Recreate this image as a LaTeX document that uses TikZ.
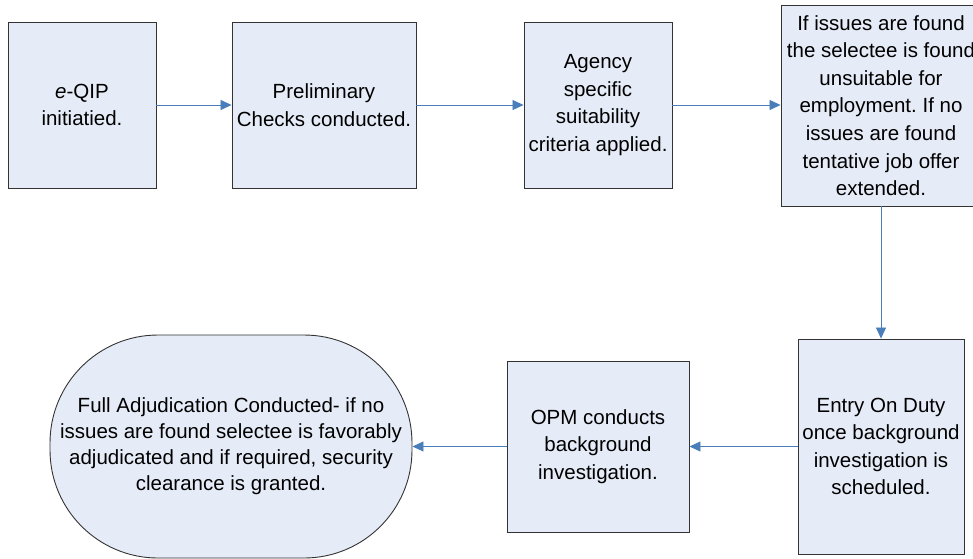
\documentclass[tikz,border=0pt]{standalone}
\usepackage{fontspec}
\setmainfont{Liberation Sans}
\frenchspacing
\usetikzlibrary{arrows.meta}
\definecolor{boxfill}{HTML}{E6ECF7}
\definecolor{boxline}{HTML}{333333}
\definecolor{flowblue}{HTML}{4A7EBB}
\tikzset{
  stepbox/.style={draw=boxline, fill=boxfill, line width=0.9pt, inner sep=0pt,
    align=center, font=\fontsize{20.5}{27.6}\selectfont},
  flow/.style={draw=flowblue, line width=0.8pt, -{Triangle[length=11pt,width=10pt]}}
}
\begin{document}
\begin{tikzpicture}[x=1pt, y=-1pt]
  \useasboundingbox (0,0) rectangle (973,558);

  % top row
  \node[stepbox, minimum width=148pt, minimum height=166pt] (eqip) at (82, 105) {\textit{e}-QIP\\initiatied.};
  \node[stepbox, minimum width=184pt, minimum height=166pt] (prelim) at (324, 105) {Preliminary\\Checks conducted.};
  \node[stepbox, minimum width=148pt, minimum height=166pt] (agency) at (598, 105) {Agency\\specific\\suitability\\criteria applied.};
  \node[stepbox, minimum width=200pt, minimum height=201pt] (offer) at (881, 105.5) {If issues are found\\the selectee is found\\unsuitable for\\employment. If no\\issues are found\\tentative job offer\\extended.};

  % bottom row
  \node[stepbox, minimum width=166pt, minimum height=215pt] (eod) at (881, 446.5) {Entry On Duty\\once background\\investigation is\\scheduled.};
  \node[stepbox, minimum width=182pt, minimum height=171pt] (opm) at (598, 446.5) {OPM conducts\\background\\investigation.};
  \node[stepbox, rounded corners=108pt, minimum width=362pt, minimum height=223pt,
    font=\fontsize{20.5}{26}\selectfont] (adjud) at (231, 446.5)
    {Full Adjudication Conducted- if no\\issues are found selectee is favorably\\adjudicated and if required, security\\clearance is granted.};

  \draw[flow] (eqip) -- (prelim);
  \draw[flow] (prelim) -- (agency);
  \draw[flow] (agency) -- (agency -| offer.west);
  \draw[flow] (offer) -- (eod);
  \draw[flow] (eod) -- (opm);
  \draw[flow] (opm) -- (adjud);
\end{tikzpicture}
\end{document}
